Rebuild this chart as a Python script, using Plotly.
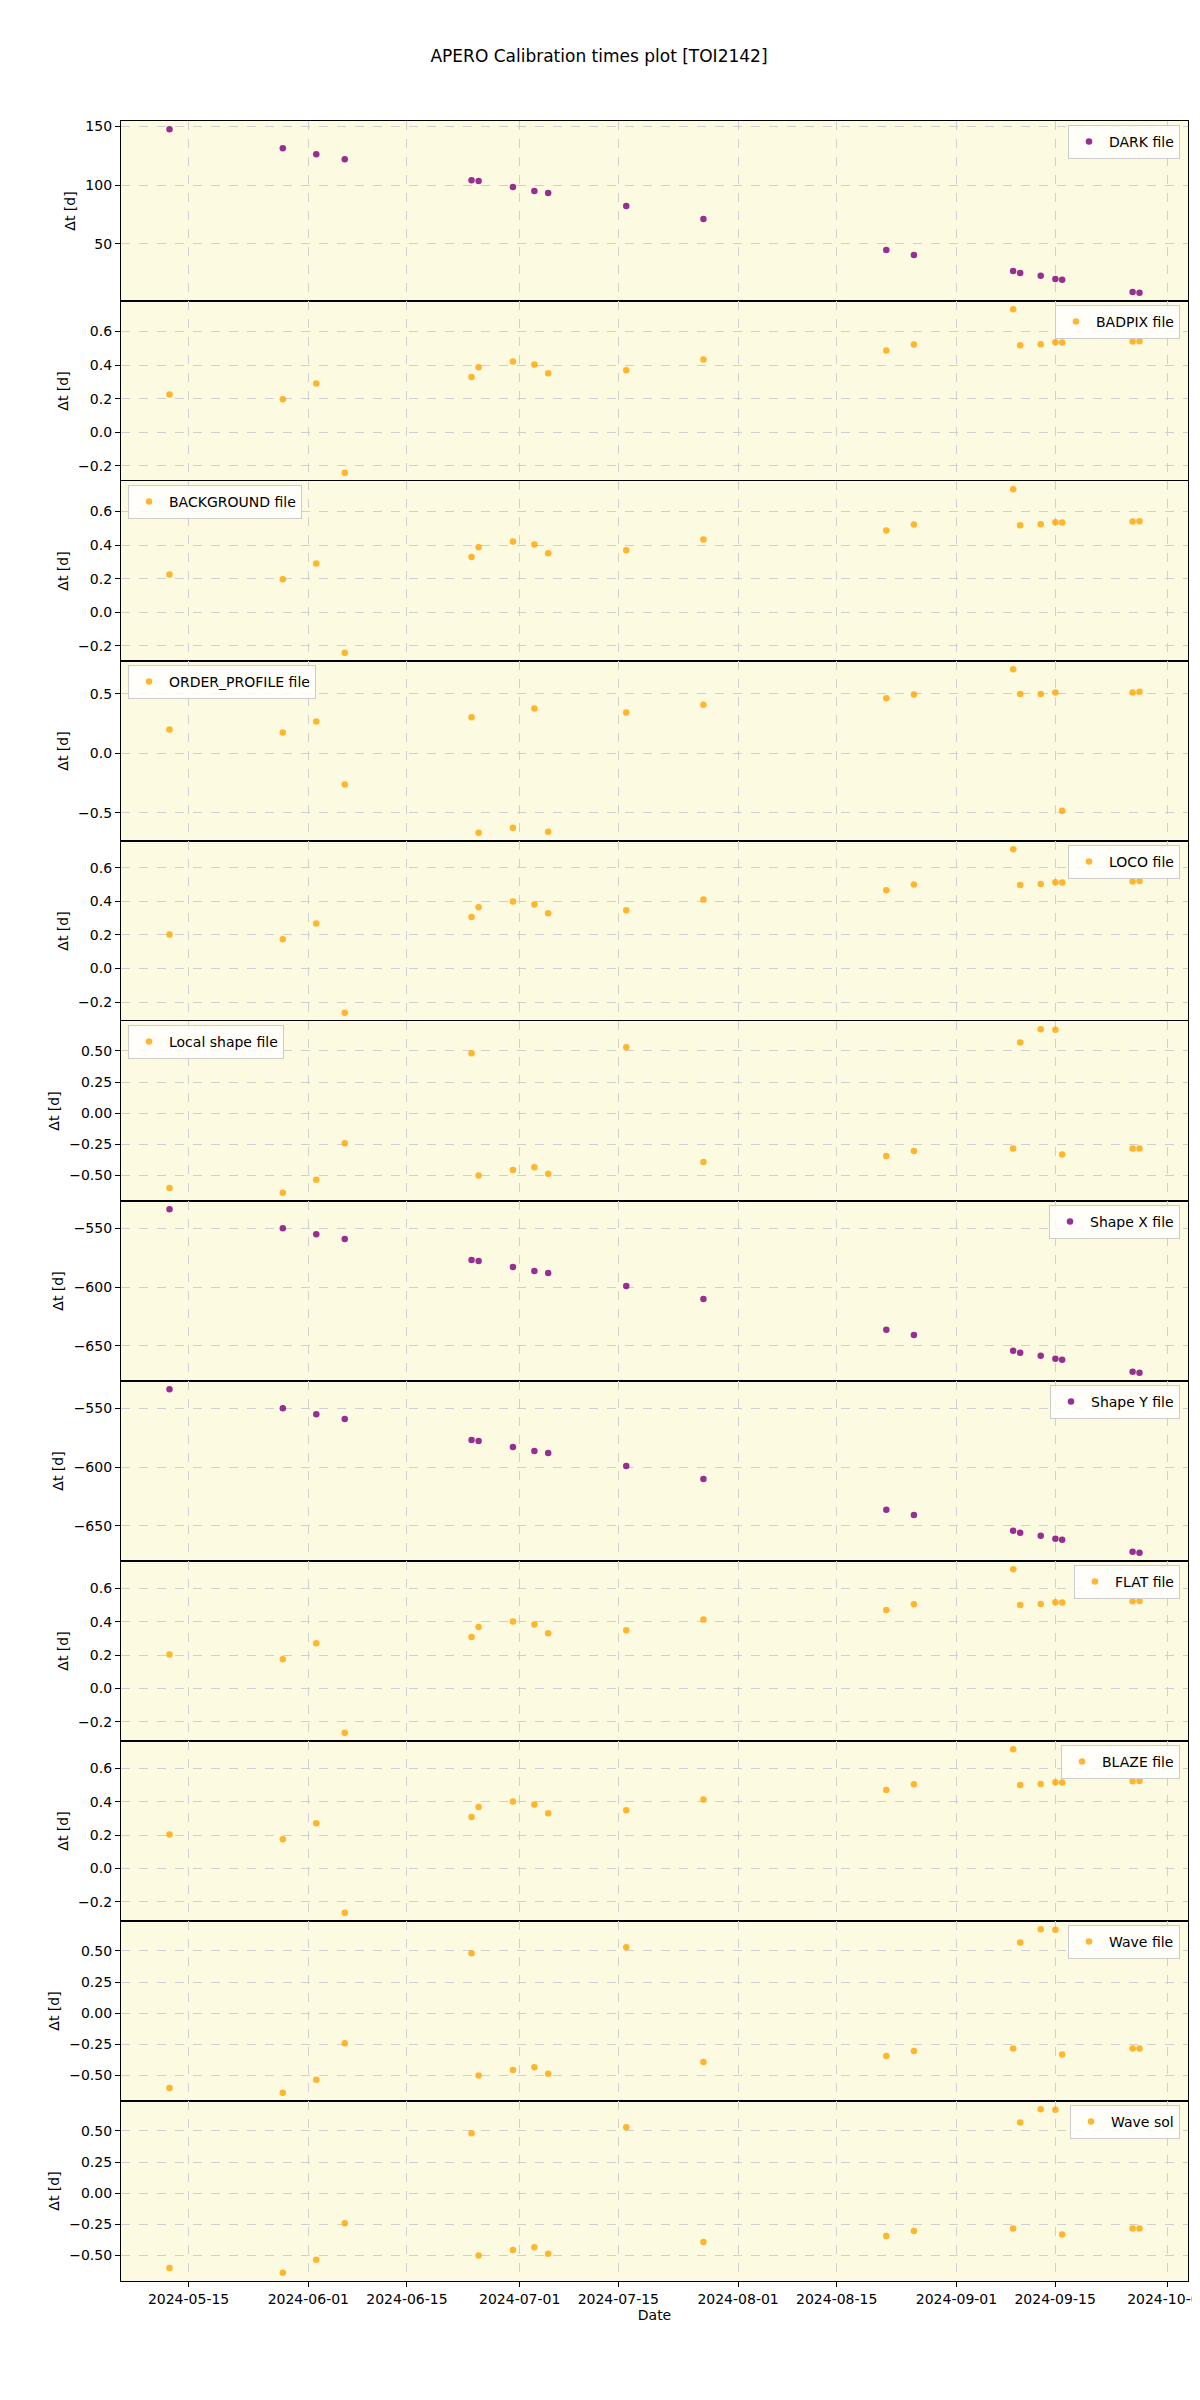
import pandas as pd
import plotly.graph_objects as go
from plotly.subplots import make_subplots

# ---------------- data ----------------
dates = [
    "2024-05-12 07:00", "2024-05-28 09:00", "2024-06-02 03:00", "2024-06-06 04:00",
    "2024-06-24 04:00", "2024-06-25 04:00", "2024-06-30 01:00", "2024-07-03 02:00",
    "2024-07-05 01:00", "2024-07-16 03:00", "2024-07-27 02:00", "2024-08-22 01:00",
    "2024-08-25 23:00", "2024-09-09 01:00", "2024-09-10 01:00", "2024-09-12 23:00",
    "2024-09-15 01:00", "2024-09-16 00:00", "2024-09-26 00:00", "2024-09-26 23:30",
]

dark_dt = [147.5, 131.4, 126.3, 122.0, 104.2, 103.4, 98.3, 94.9, 93.2, 82.2,
           71.2, 44.9, 40.7, 27.1, 25.4, 22.9, 20.3, 19.5, 9.3, 8.5]
badpix_dt = [0.224, 0.196, 0.290, -0.242, 0.329, 0.387, 0.421, 0.403, 0.351, 0.369,
             0.433, 0.487, 0.522, 0.733, 0.518, 0.524, 0.536, 0.534, 0.540, 0.542]
background_dt = [0.224, 0.196, 0.290, -0.242, 0.329, 0.387, 0.421, 0.403, 0.351, 0.369,
                 0.433, 0.487, 0.522, 0.733, 0.518, 0.524, 0.536, 0.534, 0.540, 0.542]
order_profile_dt = [0.199, 0.173, 0.266, -0.264, 0.303, -0.669, -0.627, 0.376, -0.661, 0.342,
                    0.407, 0.461, 0.494, 0.706, 0.497, 0.497, 0.511, -0.483, 0.511, 0.517]
loco_dt = [0.202, 0.174, 0.268, -0.264, 0.307, 0.365, 0.399, 0.381, 0.329, 0.347,
           0.411, 0.467, 0.501, 0.711, 0.497, 0.503, 0.514, 0.512, 0.518, 0.522]
local_shape_dt = [-0.602, -0.640, -0.535, -0.241, 0.481, -0.500, -0.457, -0.435, -0.487, 0.530,
                  -0.392, -0.344, -0.303, -0.284, 0.567, 0.675, 0.670, -0.333, -0.284, -0.284]
shape_x_dt = [-533.9, -550.0, -555.1, -559.3, -577.1, -578.0, -583.1, -586.4, -588.1, -599.2,
              -610.2, -636.4, -640.7, -654.2, -655.9, -658.5, -661.0, -661.9, -672.0, -672.9]
shape_y_dt = [-533.9, -550.0, -555.1, -559.3, -577.1, -578.0, -583.1, -586.4, -588.1, -599.2,
              -610.2, -636.4, -640.7, -654.2, -655.9, -658.5, -661.0, -661.9, -672.0, -672.9]
flat_dt = [0.204, 0.176, 0.271, -0.265, 0.309, 0.368, 0.402, 0.384, 0.331, 0.350,
           0.414, 0.471, 0.505, 0.715, 0.501, 0.507, 0.517, 0.515, 0.523, 0.525]
blaze_dt = [0.204, 0.176, 0.271, -0.265, 0.309, 0.368, 0.402, 0.384, 0.331, 0.350,
            0.414, 0.471, 0.505, 0.715, 0.501, 0.507, 0.517, 0.515, 0.523, 0.525]
wave_file_dt = [-0.602, -0.640, -0.535, -0.241, 0.481, -0.500, -0.457, -0.435, -0.487, 0.530,
                -0.392, -0.344, -0.303, -0.284, 0.567, 0.675, 0.670, -0.333, -0.284, -0.284]
wave_sol_dt = [-0.602, -0.640, -0.535, -0.241, 0.481, -0.500, -0.457, -0.435, -0.487, 0.530,
               -0.392, -0.344, -0.303, -0.284, 0.567, 0.675, 0.670, -0.333, -0.284, -0.284]

series_names = ["DARK file", "BADPIX file", "BACKGROUND file", "ORDER_PROFILE file",
                "LOCO file", "Local shape file", "Shape X file", "Shape Y file",
                "FLAT file", "BLAZE file", "Wave file", "Wave sol"]
series_values = [dark_dt, badpix_dt, background_dt, order_profile_dt, loco_dt,
                 local_shape_dt, shape_x_dt, shape_y_dt, flat_dt, blaze_dt,
                 wave_file_dt, wave_sol_dt]

date_ticks = ["2024-05-15", "2024-06-01", "2024-06-15", "2024-07-01", "2024-07-15",
              "2024-08-01", "2024-08-15", "2024-09-01", "2024-09-15", "2024-10-01"]

# ---------------- styles ----------------
PURPLE = "rgba(128,0,128,0.82)"
ORANGE = "rgba(255,165,0,0.8)"
styles = [
    (PURPLE, "right", 50, "d"),
    (ORANGE, "right", 0.2, ".1f"),
    (ORANGE, "left", 0.2, ".1f"),
    (ORANGE, "left", 0.5, ".1f"),
    (ORANGE, "right", 0.2, ".1f"),
    (ORANGE, "left", 0.25, ".2f"),
    (PURPLE, "right", 50, "d"),
    (PURPLE, "right", 50, "d"),
    (ORANGE, "right", 0.2, ".1f"),
    (ORANGE, "right", 0.2, ".1f"),
    (ORANGE, "right", 0.25, ".2f"),
    (ORANGE, "right", 0.25, ".2f"),
]

W, H = 1200, 2400
# the page adds an 8 px body margin; compensate so plot edges land where the reference has them
ML, MR, MT, MB = 113, 20, 113, 127
PW, PH = W - ML - MR, H - MT - MB
N = len(series_names)
FONT = "DejaVu Sans"

fig = make_subplots(rows=N, cols=1, shared_xaxes=True, vertical_spacing=0)

xd = pd.to_datetime(pd.Series(dates))
span = xd.max() - xd.min()
x_range = [xd.min() - 0.05 * span, xd.max() + 0.05 * span]

legends = {}
for i, (name, vals) in enumerate(zip(series_names, series_values)):
    color, side, dtick, fmt = styles[i]
    lname = "legend" if i == 0 else f"legend{i + 1}"
    fig.add_trace(
        go.Scatter(x=dates, y=vals, mode="markers", name=name,
                   marker=dict(color=color, size=6.5, line=dict(width=0)),
                   legend=lname, showlegend=True),
        row=i + 1, col=1,
    )
    lo, hi = min(vals), max(vals)
    pad = 0.05 * (hi - lo)
    fig.update_yaxes(range=[lo - pad, hi + pad], dtick=dtick, tickformat=fmt,
                     row=i + 1, col=1)
    top = 1 - i / N - 4 / PH
    if side == "right":
        lx, xa = 1 - 8 / PW, "right"
    else:
        lx, xa = 7 / PW, "left"
    legends[lname] = dict(x=lx, y=top, xanchor=xa, yanchor="top",
                          bgcolor="rgba(255,255,255,0.8)", bordercolor="#cccccc",
                          borderwidth=1, font=dict(family=FONT, size=14, color="black"))

fig.update_yaxes(
    title=dict(text="Δt [d]", font=dict(family=FONT, size=14, color="black"), standoff=6),
    automargin=False,
    showline=True, linecolor="black", linewidth=1.2, mirror=True,
    ticks="outside", ticklen=5, tickcolor="black",
    tickfont=dict(family=FONT, size=14, color="black"),
    showgrid=True, gridcolor="#d0d0d0", griddash="dash", gridwidth=1,
    zeroline=False,
)
fig.update_xaxes(
    range=x_range, tickvals=date_ticks, tickformat="%Y-%m-%d",
    automargin=False, ticklabeloverflow="allow",
    showline=True, linecolor="black", linewidth=1.2, mirror=True,
    ticks="outside", ticklen=5, tickcolor="black",
    tickfont=dict(family=FONT, size=14, color="black"),
    showgrid=True, gridcolor="#d0d0d0", griddash="dash", gridwidth=1,
    zeroline=False,
)
fig.update_xaxes(title=dict(text="Date", font=dict(family=FONT, size=14, color="black"),
                            standoff=4), row=N, col=1)

fig.update_layout(
    width=W, height=H,
    margin=dict(l=ML, r=MR, t=MT, b=MB, autoexpand=False),
    paper_bgcolor="white", plot_bgcolor="#fcfbe1",
    font=dict(family=FONT, size=14, color="black"),
    title=dict(text="APERO Calibration times plot [TOI2142]", x=591 / W, xref="container",
               xanchor="center", y=1 - 48 / H, yref="container", yanchor="middle",
               font=dict(family=FONT, size=17, color="black")),
    **legends,
)

fig.write_html("out.html")
